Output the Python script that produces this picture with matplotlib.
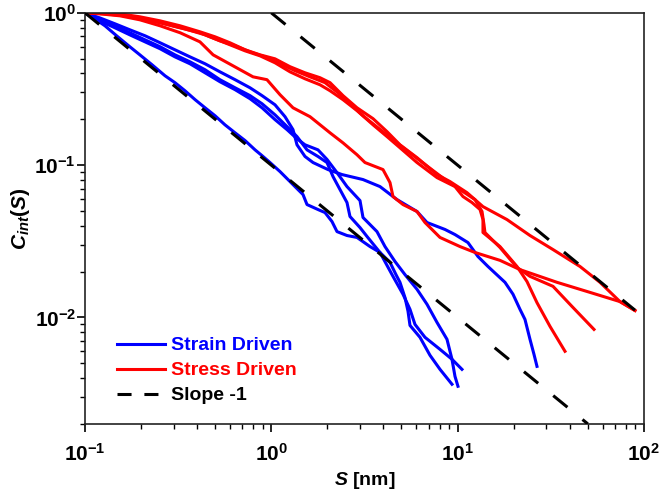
import numpy as np
import matplotlib
matplotlib.use("Agg")
import matplotlib.pyplot as plt

plt.rcParams['font.family'] = ['Liberation Sans', 'DejaVu Sans']
plt.rcParams['font.weight'] = 'bold'
plt.rcParams['mathtext.fontset'] = 'custom'
plt.rcParams['mathtext.rm'] = 'Liberation Sans:bold'
plt.rcParams['mathtext.bf'] = 'Liberation Sans:bold'
plt.rcParams['mathtext.it'] = 'Liberation Sans:italic:bold'

# ---- strain driven (blue) ----
s_b1 = [0.1, 0.113, 0.128, 0.150, 0.174, 0.197, 0.229, 0.269, 0.304, 0.344, 0.390, 0.441, 0.499,
        0.564, 0.639, 0.723, 0.818, 0.892, 0.984, 1.114, 1.260, 1.391, 1.480, 1.555, 1.781, 1.943,
        2.118, 2.253, 2.549, 2.885, 3.387, 3.833, 4.338, 4.670, 4.908, 5.221, 5.418, 5.554, 6.284,
        7.112, 8.048, 9.333]
c_b1 = [1.0, 0.913, 0.822, 0.696, 0.599, 0.530, 0.456, 0.386, 0.348, 0.308, 0.269, 0.238, 0.211,
        0.184, 0.163, 0.145, 0.126, 0.1154, 0.104, 0.0907, 0.0780, 0.0691, 0.0641, 0.0551, 0.0511,
        0.0488, 0.0426, 0.0366, 0.0345, 0.0335, 0.0292, 0.0267, 0.0230, 0.0191, 0.0170, 0.0135,
        0.0110, 0.00886, 0.00740, 0.00564, 0.00456, 0.00364]

s_b2 = [0.1, 0.120, 0.145, 0.174, 0.210, 0.253, 0.304, 0.366, 0.441, 0.530, 0.639, 0.769, 0.892,
        1.047, 1.215, 1.374, 1.555, 1.781, 1.991, 2.145, 2.338, 2.549, 2.645, 2.994, 3.265, 3.833,
        4.501, 5.093, 5.554, 5.907, 6.686, 8.048, 9.333, 10.56]
c_b2 = [1.0, 0.900, 0.822, 0.740, 0.665, 0.599, 0.530, 0.477, 0.423, 0.364, 0.322, 0.286, 0.253,
        0.214, 0.179, 0.154, 0.126, 0.114, 0.104, 0.0841, 0.0691, 0.0568, 0.0460, 0.0389, 0.0340,
        0.0267, 0.0186, 0.0142, 0.0113, 0.00900, 0.00740, 0.00617, 0.00531, 0.00456]

s_b3 = [0.1, 0.120, 0.145, 0.174, 0.210, 0.253, 0.304, 0.366, 0.441, 0.530, 0.639, 0.769, 0.892,
        1.047, 1.215, 1.374, 1.517, 1.781, 1.991, 2.253, 2.549, 2.994, 3.107, 3.693, 4.077, 4.613,
        5.221, 6.056, 6.853, 7.756, 8.775, 9.333, 9.687, 10.05]
c_b3 = [1.0, 0.886, 0.797, 0.717, 0.645, 0.581, 0.514, 0.463, 0.404, 0.353, 0.313, 0.273, 0.238,
        0.199, 0.171, 0.149, 0.136, 0.126, 0.109, 0.0893, 0.0723, 0.0585, 0.0453, 0.0366, 0.0292,
        0.0233, 0.0191, 0.0153, 0.0122, 0.00927, 0.00718, 0.00531, 0.00410, 0.00353]

s_b4 = [0.1, 0.120, 0.145, 0.174, 0.210, 0.253, 0.304, 0.366, 0.441, 0.530, 0.639, 0.769, 0.892,
        1.047, 1.185, 1.308, 1.374, 1.517, 1.675, 2.016, 2.397, 3.107, 3.833, 4.729, 6.056, 6.853,
        8.560, 9.687, 11.37, 12.87, 14.56, 17.97, 19.84, 21.63, 23.01, 24.48, 25.72, 26.69]
c_b4 = [1.0, 0.927, 0.847, 0.774, 0.707, 0.636, 0.572, 0.514, 0.463, 0.410, 0.364, 0.322, 0.286,
        0.249, 0.208, 0.171, 0.136, 0.114, 0.104, 0.0935, 0.0867, 0.0804, 0.0723, 0.0594, 0.0496,
        0.0420, 0.0378, 0.0350, 0.0310, 0.0251, 0.0216, 0.0170, 0.0142, 0.0113, 0.00970, 0.00718,
        0.00572, 0.00477]

# ---- stress driven (red) ----
s_r1 = [0.100, 0.120, 0.154, 0.197, 0.253, 0.324, 0.414, 0.499, 0.600, 0.723, 0.870, 1.047, 1.260,
        1.517, 1.826, 2.067, 2.427, 2.885, 3.516, 4.180, 4.908, 6.056, 7.756, 9.106, 11.23, 13.69,
        18.42, 24.48, 32.53, 45.42, 58.15, 74.43, 89.65]
c_r1 = [1.0, 1.0, 0.985, 0.942, 0.886, 0.822, 0.751, 0.696, 0.636, 0.572, 0.530, 0.499, 0.443,
        0.404, 0.375, 0.348, 0.286, 0.238, 0.202, 0.166, 0.136, 0.112, 0.0867, 0.0780, 0.0660,
        0.0534, 0.0439, 0.0345, 0.0279, 0.0216, 0.0170, 0.0127, 0.0111]

s_r2 = [0.100, 0.120, 0.154, 0.197, 0.253, 0.324, 0.414, 0.499, 0.600, 0.723, 0.870, 1.047, 1.260,
        1.517, 1.826, 2.067, 2.427, 2.885, 3.516, 4.180, 4.908, 6.056, 7.756, 9.687, 10.69, 11.95,
        13.20, 13.69, 13.69, 16.89, 20.84, 23.59, 26.69, 31.35, 37.73]
c_r2 = [1.0, 1.0, 0.970, 0.913, 0.860, 0.797, 0.740, 0.675, 0.617, 0.563, 0.522, 0.470, 0.410,
        0.369, 0.337, 0.308, 0.269, 0.228, 0.184, 0.154, 0.130, 0.104, 0.0828, 0.0723, 0.0622,
        0.0568, 0.0511, 0.0439, 0.0361, 0.0292, 0.0216, 0.0172, 0.0125, 0.00873, 0.00599]

s_r3 = [0.1, 0.128, 0.164, 0.210, 0.269, 0.344, 0.441, 0.530, 0.639, 0.769, 0.925, 1.114, 1.341,
        1.614, 1.943, 2.281, 2.645, 3.107, 3.739, 4.501, 5.418, 6.686, 8.560, 10.30, 12.40, 13.53,
        13.86, 14.03, 16.89, 20.84, 24.48, 32.53, 41.15, 54.00]
c_r3 = [1.0, 0.985, 0.956, 0.913, 0.847, 0.785, 0.717, 0.655, 0.608, 0.555, 0.514, 0.463, 0.417,
        0.380, 0.348, 0.299, 0.253, 0.211, 0.176, 0.147, 0.123, 0.101, 0.0804, 0.0691, 0.0594,
        0.0496, 0.0407, 0.0361, 0.0288, 0.0213, 0.0186, 0.0160, 0.0118, 0.00834]

s_r4 = [0.1, 0.120, 0.154, 0.197, 0.253, 0.324, 0.414, 0.487, 0.623, 0.798, 0.948, 1.114, 1.308,
        1.614, 2.067, 2.427, 2.885, 3.184, 3.978, 4.338, 4.501, 5.093, 6.056, 6.686, 8.048, 10.30,
        12.40, 16.89, 21.63, 34.18, 51.38, 74.43, 89.65]
c_r4 = [1.0, 0.985, 0.956, 0.900, 0.822, 0.740, 0.645, 0.530, 0.449, 0.380, 0.364, 0.290, 0.238,
        0.208, 0.163, 0.140, 0.117, 0.104, 0.0935, 0.0768, 0.0622, 0.0551, 0.0496, 0.0420, 0.0335,
        0.0292, 0.0267, 0.0237, 0.0206, 0.0170, 0.0146, 0.0127, 0.0111]

# slope -1 guide lines: (start, end) and prefactor
guide_ranges = [(0.1, 50.0), (1.0, 89.65)]
guide_amp = [0.1, 1.0]

blue = '#0000ff'
red = '#ff0000'
dash = (6.0, 6.37)

fig = plt.figure(figsize=(6.59, 4.94), dpi=100)
ax = fig.add_axes([0.129, 0.142, 0.848, 0.832])

lw = 2.2
for s, c in [(s_b1, c_b1), (s_b2, c_b2), (s_b3, c_b3), (s_b4, c_b4)]:
    ax.plot(s, c, color=blue, lw=lw, solid_joinstyle='round')
for s, c in [(s_r1, c_r1), (s_r2, c_r2), (s_r3, c_r3), (s_r4, c_r4)]:
    ax.plot(s, c, color=red, lw=lw, solid_joinstyle='round')
for (x0, x1), a in zip(guide_ranges, guide_amp):
    xs = np.array([x0, x1])
    ax.plot(xs, a / xs, color='black', lw=lw, dashes=dash, zorder=5)

# legend proxies
h1, = ax.plot([], [], color=blue, lw=lw)
h2, = ax.plot([], [], color=red, lw=lw)
h3, = ax.plot([], [], color='black', lw=lw, dashes=(4.6, 4.2))
leg = ax.legend([h1, h2, h3], ['Strain Driven', 'Stress Driven', 'Slope -1'],
                loc='upper left', bbox_to_anchor=(0.057, 0.212), frameon=False,
                fontsize=14, handlelength=2.5, handletextpad=0.3, labelspacing=0.38,
                borderpad=0, borderaxespad=0)
for t, col in zip(leg.get_texts(), [blue, red, 'black']):
    t.set_color(col)
    t.set_fontweight('bold')

ax.set_xscale('log')
ax.set_yscale('log')
ax.set_xlim(0.1, 100)
ax.set_ylim(0.002, 1)

ax.set_xticks([0.1, 1, 10, 100])
ax.set_xticklabels([r'$\mathbf{10^{-1}}$', r'$\mathbf{10^{0}}$', r'$\mathbf{10^{1}}$', r'$\mathbf{10^{2}}$'])
ax.set_yticks([0.01, 0.1, 1])
ax.set_yticklabels([r'$\mathbf{10^{-2}}$', r'$\mathbf{10^{-1}}$', r'$\mathbf{10^{0}}$'])
ax.tick_params(which='major', direction='out', length=5.5, width=1.2, labelsize=15)
ax.tick_params(axis='x', which='major', pad=8)
ax.tick_params(axis='y', which='major', pad=1)
ax.tick_params(which='minor', direction='out', length=3.5, width=1.0)
ax.tick_params(top=False, right=False, which='both')

for sp in ax.spines.values():
    sp.set_linewidth(1.2)
    sp.set_color('#222222')

ax.set_xlabel(r'$S$ [nm]', fontsize=14, fontweight='bold', labelpad=4)
ax.set_ylabel(r'$C_{int}(S)$', fontsize=15, fontweight='bold', labelpad=2)

fig.savefig('out.png', dpi=100)
